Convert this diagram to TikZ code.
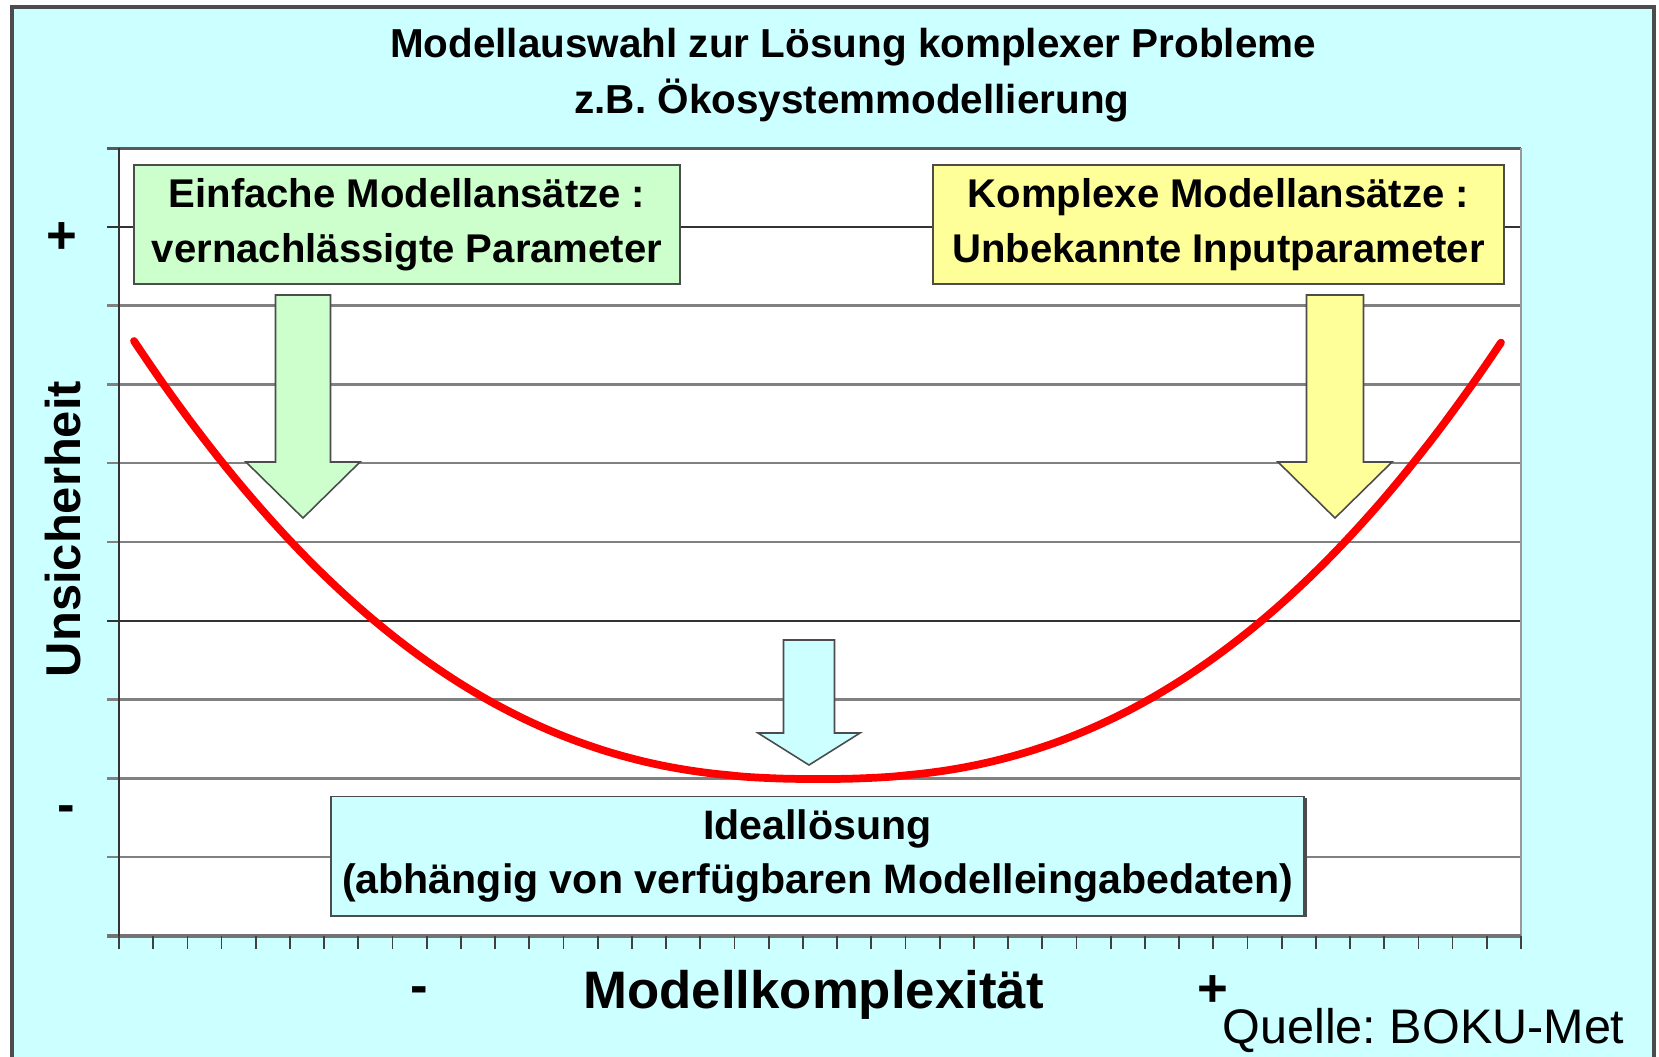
\documentclass[tikz,border=0pt]{standalone}
\usepackage{fontspec}
\setmainfont{Liberation Sans}
\definecolor{bgcyan}{HTML}{CCFFFF}
\definecolor{boxgreen}{HTML}{CCFFCC}
\definecolor{boxyellow}{HTML}{FFFF99}
\definecolor{curvered}{HTML}{FF0000}
\frenchspacing
\begin{document}
\begin{tikzpicture}[x=0.01cm,y=-0.01cm,
  gridline/.style={black!50, line width=0.65pt},
  darkgrid/.style={black!80, line width=0.6pt},
  infobox/.style={draw=black!70, line width=0.55pt, inner sep=0pt, align=center,
    minimum height=1.19cm, font=\fontsize{11.4}{15.6}\selectfont\bfseries},
  blockarrow/.style={draw=black!70, line width=0.45pt},
  txt/.style={inner sep=0pt}
]
\useasboundingbox (0,0) rectangle (1659,1056);
\fill[white] (0,0) rectangle (1659,1056);
% outer frame
\draw[fill=bgcyan, draw=black!70, line width=1pt] (12,7) rectangle (1654,1080);
% plot area
\fill[white] (119,148) rectangle (1521,936);
\foreach \k in {1,2,3,4,5,7,8,9} {
  \draw[gridline] (107,{148+78.8*\k}) -- (1521,{148+78.8*\k});
}
\draw[darkgrid] (107,{148+78.8}) -- (1521,{148+78.8});
\draw[darkgrid] (107,{148+78.8*6}) -- (1521,{148+78.8*6});
\draw[black!65, line width=0.85pt] (107,148) -- (1521,148);
\draw[black!40, line width=0.85pt] (1521,148) -- (1521,936);
\draw[black!55, line width=1.1pt] (107,936) -- (1521,936);
\draw[black!80, line width=0.85pt] (119,148) -- (119,936);
\foreach \k in {0,...,41} {
  \draw[black!75, line width=0.5pt] ({119+34.195*\k},936) -- ({119+34.195*\k},949);
}
% red curve
\draw[curvered, line width=2.2pt, line cap=round]
  plot[domain=-1:1, samples=100, smooth] ({818+684*\x},{779-438*pow(abs(\x),2.35)});
% boxes
\node[infobox, fill=boxgreen, minimum width=5.46cm] (einfach) at (407,224.5)
  {Einfache Modellansätze :\\vernachlässigte Parameter};
\node[infobox, fill=boxyellow, minimum width=5.71cm] (komplex) at (1218.5,224.5)
  {Komplexe Modellansätze :\\Unbekannte Inputparameter};
\fill[black!70] (334,798) rectangle (1307,917);
\node[infobox, fill=bgcyan, minimum width=9.73cm, font=\fontsize{11.7}{15.4}\selectfont\bfseries] (ideal) at (817.5,856)
  {Ideallösung\\(abhängig von verfügbaren Modelleingabedaten)};
% block arrows
\draw[blockarrow, fill=boxgreen] (275.5,295) -- (330.5,295) -- (330.5,462) -- (360,462)
  -- (303,518) -- (246,462) -- (275.5,462) -- cycle;
\draw[blockarrow, fill=boxyellow] (1306.5,295) -- (1363.5,295) -- (1363.5,462) -- (1392,462)
  -- (1335,518) -- (1278,462) -- (1306.5,462) -- cycle;
\draw[blockarrow, fill=bgcyan] (783.5,640) -- (834.5,640) -- (834.5,733) -- (860,733)
  -- (809,765) -- (758,733) -- (783.5,733) -- cycle;
% texts
\node[txt, anchor=base, font=\fontsize{11.5}{13}\selectfont\bfseries] (title1) at (853,57)
  {Modellauswahl zur Lösung komplexer Probleme};
\node[txt, anchor=base, font=\fontsize{11.5}{13}\selectfont\bfseries] (title2) at (852,113)
  {z.B. Ökosystemmodellierung};
\node[txt, rotate=90, font=\fontsize{13.9}{15}\selectfont\bfseries] (ylab) at (63.5,529) {Unsicherheit};
\node[txt, font=\fontsize{15}{17}\selectfont\bfseries] (yplus) at (62,238) {+};
\node[txt, font=\fontsize{15}{17}\selectfont\bfseries] (yminus) at (66.5,814) {-};
\node[txt, anchor=base, font=\fontsize{15}{17}\selectfont\bfseries] (xlab) at (813.5,1008) {Modellkomplexität};
\node[txt, font=\fontsize{15}{17}\selectfont\bfseries] (xminus) at (419,995) {-};
\node[txt, font=\fontsize{15}{17}\selectfont\bfseries] (xplus) at (1213,991) {+};
\node[txt, anchor=base west, font=\fontsize{13.8}{16}\selectfont] (quelle) at (1222,1043) {Quelle: BOKU-Met};
\end{tikzpicture}
\end{document}
